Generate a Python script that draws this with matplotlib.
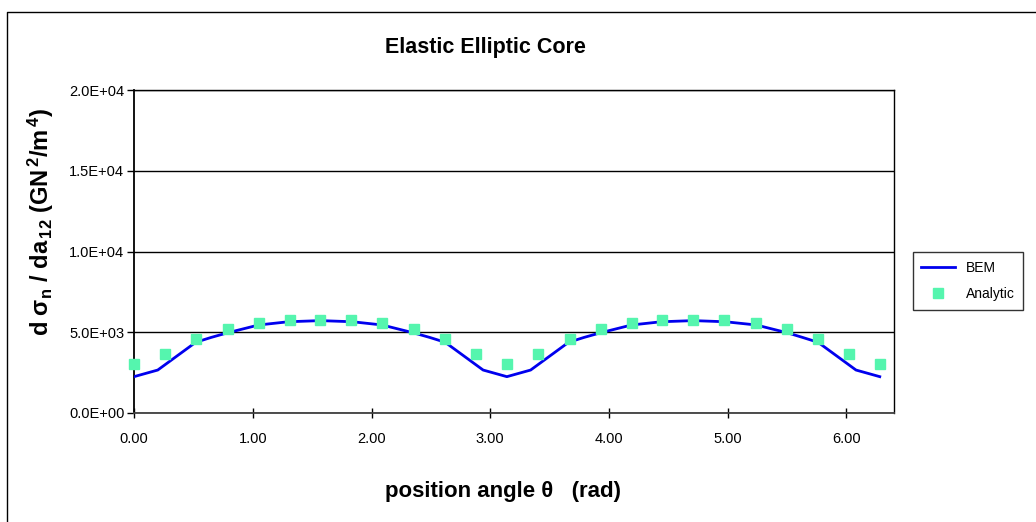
import matplotlib.pyplot as plt
from matplotlib.lines import Line2D
from matplotlib.ticker import FuncFormatter, MultipleLocator

plt.rcParams['font.family'] = ['Liberation Sans', 'DejaVu Sans']
plt.rcParams['mathtext.fontset'] = 'custom'
plt.rcParams['mathtext.rm'] = 'Liberation Sans:bold'
plt.rcParams['mathtext.it'] = 'Liberation Sans:bold'
plt.rcParams['mathtext.bf'] = 'Liberation Sans:bold'

title = 'Elastic Elliptic Core'
xlabel = 'position angle θ   (rad)'
ylabel = r'd $\sigma_{\rm n}$ / da$_{\,12}$ (GN$^{\,2}$/m$^{\,4}$)'

# BEM curve
bem_theta = [0.00, 0.20, 0.52, 0.65, 0.79, 1.05, 1.30, 1.57, 1.84, 2.09, 2.35, 2.49, 2.62, 2.94,
             3.14, 3.34, 3.66, 3.79, 3.93, 4.19, 4.44, 4.71, 4.98, 5.24, 5.50, 5.63, 5.76, 6.08, 6.28]
bem_val = [2250, 2660, 4380, 4680, 4970, 5450, 5650, 5720, 5650, 5450, 4970, 4680, 4380, 2660,
           2250, 2660, 4380, 4680, 4970, 5450, 5650, 5720, 5650, 5450, 4970, 4680, 4380, 2660, 2250]

# Analytic points
ana_theta = [0.00, 0.26, 0.52, 0.79, 1.05, 1.31, 1.57, 1.83, 2.09, 2.36, 2.62, 2.88, 3.14,
             3.40, 3.67, 3.93, 4.19, 4.45, 4.71, 4.97, 5.24, 5.50, 5.76, 6.02, 6.28]
ana_val = [3050, 3650, 4600, 5200, 5560, 5750, 5760, 5750, 5560, 5200, 4600, 3650, 3050,
           3650, 4600, 5200, 5560, 5750, 5760, 5750, 5560, 5200, 4600, 3650, 3050]

W, H = 1036, 522
fig = plt.figure(figsize=(W / 100, H / 100), dpi=100)
ax = fig.add_axes([134 / W, 1 - 413 / H, (894 - 134) / W, (413 - 90) / H])

ax.plot(bem_theta, bem_val, color='#0000EE', lw=2.0, label='BEM', zorder=3)
ax.plot(ana_theta, ana_val, ls='none', marker='s', ms=7.5, color='#55F5AE',
        mec='#55F5AE', label='Analytic', zorder=4, clip_on=False)

ax.set_xlim(0, 6.4)
ax.set_ylim(0, 20000)
ax.xaxis.set_major_locator(MultipleLocator(1))
ax.yaxis.set_major_locator(MultipleLocator(5000))
ax.xaxis.set_major_formatter(FuncFormatter(lambda v, p: f'{v:.2f}'))
ax.yaxis.set_major_formatter(FuncFormatter(lambda v, p: f'{v:.1E}'))
ax.yaxis.grid(True, color='black', lw=1.0)
ax.set_axisbelow(True)
for s in ax.spines.values():
    s.set_color('black')
    s.set_linewidth(1.0)
ax.spines['left'].set_linewidth(1.3)
ax.spines['bottom'].set_linewidth(1.3)
ax.spines['bottom'].set_color('#404040')
ax.tick_params(axis='x', direction='inout', length=7, width=1, labelsize=10.5, pad=10)
ax.tick_params(axis='y', direction='out', length=5, width=1, labelsize=10.5, pad=2)

fig.text(485 / W, 1 - 48 / H, title, ha='center', va='center', fontsize=15.5, fontweight='bold')
fig.text(503 / W, 1 - 491 / H, xlabel, ha='center', va='center', fontsize=16, fontweight='bold')
fig.text(41 / W, 1 - 222 / H, ylabel, ha='center', va='center', rotation=90,
         fontsize=17, fontweight='bold')

leg = fig.legend(loc='center left', bbox_to_anchor=(913 / W, 1 - 281 / H), fontsize=10,
                 frameon=True, fancybox=False, edgecolor='black', borderpad=0.6,
                 handlelength=2.4, labelspacing=0.9, borderaxespad=0)
leg.get_frame().set_linewidth(1.0)

# outer chart border
fig.add_artist(Line2D([7 / W, 7 / W, 1], [0, 1 - 12 / H, 1 - 12 / H], color='black', lw=1.0))

fig.savefig('out.png', dpi=100)
